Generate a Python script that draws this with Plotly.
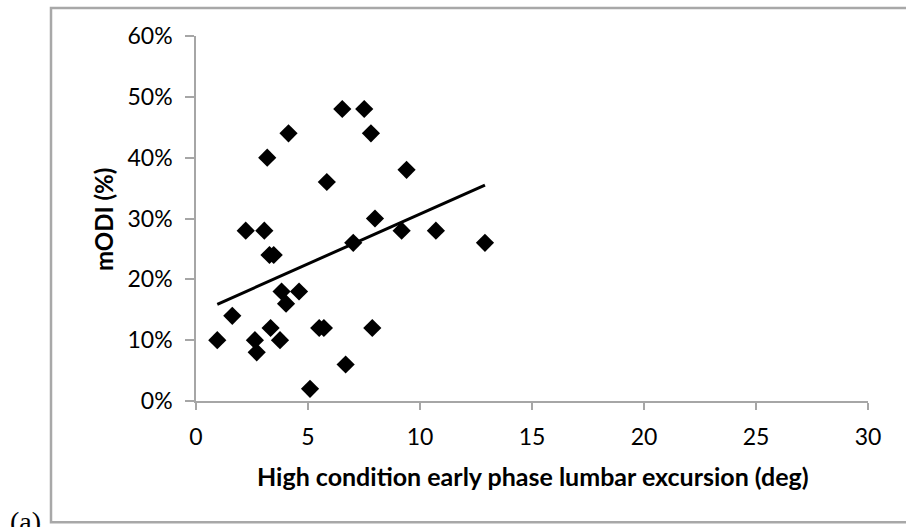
import plotly.graph_objects as go

# Data
excursion_deg = [0.95, 1.62, 2.22, 2.63, 2.71, 3.05, 3.18, 3.28, 3.47, 3.33, 3.75, 3.82,
                 4.02, 4.13, 4.6, 5.09, 5.5, 5.71, 5.84, 6.53, 6.68, 7.02, 7.51, 7.81,
                 7.87, 7.99, 9.18, 9.4, 10.71, 12.9]
modi_pct = [10, 14, 28, 10, 8, 28, 40, 24, 24, 12, 10, 18,
            16, 44, 18, 2, 12, 12, 36, 48, 6, 26, 48, 44,
            12, 30, 28, 38, 28, 26]

trend_x = [0.95, 12.9]
trend_y = [15.9, 35.5]

x_ticks = [0, 5, 10, 15, 20, 25, 30]
y_ticks = [0, 10, 20, 30, 40, 50, 60]
y_tick_labels = [f"{v}%" for v in y_ticks]

AXIS_COLOR = "#a6a6a6"
BORDER_COLOR = "#a8a8a8"
FONT = "Lato, 'Open Sans', sans-serif"

fig = go.Figure()
fig.add_trace(go.Scatter(
    x=excursion_deg, y=modi_pct, mode="markers",
    marker=dict(symbol="diamond", size=14, color="black", line=dict(width=0)),
    showlegend=False, cliponaxis=False))
fig.add_trace(go.Scatter(
    x=trend_x, y=trend_y, mode="lines",
    line=dict(color="black", width=3), showlegend=False))

W, H = 906, 527
L, R, T, B = 196, 38, 35.5, 125.5
pw, ph = W - L - R, H - T - B

def px_x(p):
    return (p - L) / pw

def px_y(p):
    return (H - B - p) / ph

fig.update_layout(
    width=W, height=H,
    margin=dict(l=L, r=R, t=T, b=B, autoexpand=False),
    paper_bgcolor="white", plot_bgcolor="white",
    font=dict(family=FONT, size=23, color="black"),
    xaxis=dict(range=[0, 30], tickvals=x_ticks, showgrid=False, zeroline=False,
               showline=True, linecolor=AXIS_COLOR, linewidth=1.5,
               ticks="outside", ticklen=7, tickcolor=AXIS_COLOR, tickwidth=1.5,
               ticklabelstandoff=8, automargin=False,
               tickfont=dict(family=FONT, size=23, color="black")),
    yaxis=dict(range=[0, 60], tickvals=y_ticks, ticktext=y_tick_labels,
               showgrid=False, zeroline=False,
               showline=True, linecolor=AXIS_COLOR, linewidth=1.5,
               ticks="outside", ticklen=9, tickcolor=AXIS_COLOR, tickwidth=1.5,
               ticklabelstandoff=8, automargin=False,
               tickfont=dict(family=FONT, size=23, color="black")),
    shapes=[
        dict(type="rect", xref="paper", yref="paper",
             x0=px_x(51), x1=px_x(915), y0=px_y(523), y1=px_y(7.5),
             line=dict(color=BORDER_COLOR, width=2.5),
             fillcolor="rgba(0,0,0,0)", layer="above"),
    ],
    annotations=[
        dict(text="<b>High condition early phase lumbar excursion (deg)</b>",
             xref="paper", yref="paper", x=px_x(533), y=px_y(477),
             xanchor="center", yanchor="middle", showarrow=False,
             font=dict(family=FONT, size=25, color="black")),
        dict(text="<b>mODI (%)</b>", textangle=-90,
             xref="paper", yref="paper", x=px_x(104), y=px_y(219),
             xanchor="center", yanchor="middle", showarrow=False,
             font=dict(family=FONT, size=24, color="black")),
        dict(text="(a)", xref="paper", yref="paper", x=px_x(25), y=px_y(505),
             xanchor="center", yanchor="top", showarrow=False,
             font=dict(family="'Liberation Serif', serif", size=28, color="black")),
    ],
)

fig.write_html("out.html",
               config={"displayModeBar": False},
               post_script="document.documentElement.style.margin='0';"
                           "document.documentElement.style.overflow='hidden';"
                           "document.body.style.margin='0';"
                           "document.body.style.padding='0';"
                           "document.body.style.overflow='hidden';"
                           "window.scrollTo(0,0);")
